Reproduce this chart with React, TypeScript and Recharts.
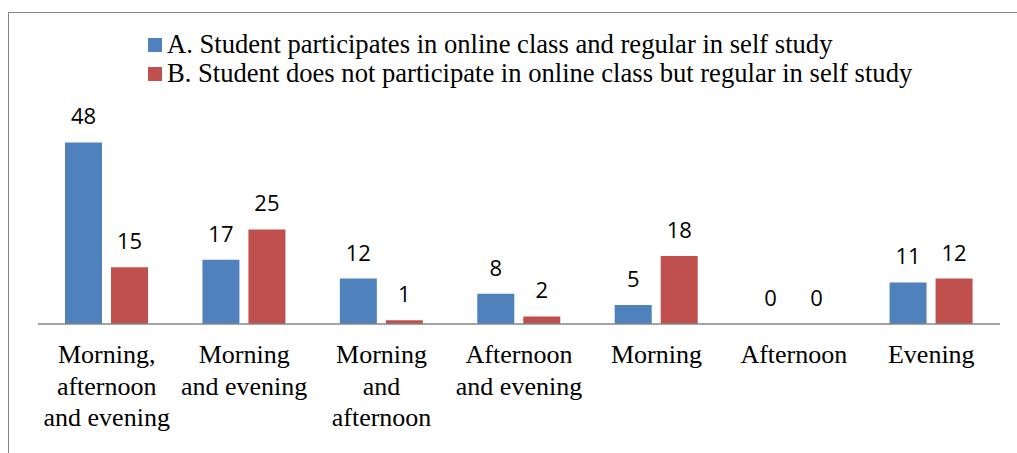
import React from "react"
import { BarChart, Bar, XAxis, YAxis, LabelList, Legend } from "recharts"

const categories = [
  "Morning,\nafternoon\nand evening",
  "Morning\nand evening",
  "Morning\nand\nafternoon",
  "Afternoon\nand evening",
  "Morning",
  "Afternoon",
  "Evening",
]
const seriesA = [48, 17, 12, 8, 5, 0, 11]
const seriesB = [15, 25, 1, 2, 18, 0, 12]
const seriesNames = [
  "A. Student participates in online class and regular in self study",
  "B. Student does not participate in online class but regular in self study",
]

const data = categories.map((name, i) => ({ name, a: seriesA[i], b: seriesB[i] }))

const SERIF = '"Liberation Serif", "Times New Roman", serif'
const SANS = '"Open Sans", "Noto Sans", sans-serif'

function CategoryTick(props: any) {
  const { x, y, payload } = props
  const lines = String(payload.value).split("\n")
  return (
    <text x={x} y={y + 39} textAnchor="middle" fontFamily={SERIF} fontSize={26} fill="#000">
      {lines.map((line: string, i: number) => (
        <tspan key={i} x={x} dy={i === 0 ? 0 : 31.5}>
          {line}
        </tspan>
      ))}
    </text>
  )
}

function LegendBox(props: any) {
  const { payload } = props
  return (
    <div style={{ fontFamily: SERIF, fontSize: 26.6, color: "#000", whiteSpace: "nowrap" }}>
      {(payload || []).map((entry: any) => (
        <div key={entry.value} style={{ display: "flex", alignItems: "center", height: 29 }}>
          <span
            style={{
              display: "inline-block",
              width: 14,
              height: 14,
              background: entry.color,
              marginRight: 5,
            }}
          />
          <span>{entry.value}</span>
        </div>
      ))}
    </div>
  )
}

export default function App() {
  return (
    <div
      style={{
        position: "fixed",
        left: 0,
        top: 0,
        width: 1017,
        height: 453,
        overflow: "hidden",
        background: "#fff",
      }}
    >
      <div
        style={{
          position: "absolute",
          left: 8,
          top: 12,
          width: 1100,
          height: 500,
          borderTop: "1px solid #868686",
          borderLeft: "1px solid #868686",
        }}
      />
      <div style={{ position: "absolute", left: 0, top: 0 }}>
        <BarChart
          width={1017}
          height={453}
          data={data}
          margin={{ top: 97, right: 17, bottom: 29, left: 38 }}
          barSize={37}
          barGap={9}
        >
          <XAxis
            dataKey="name"
            height={100}
            interval={0}
            tickLine={false}
            tickSize={0}
            tickMargin={0}
            axisLine={{ stroke: "#868686", strokeWidth: 1.5 }}
            tick={<CategoryTick />}
          />
          <YAxis hide domain={[0, 60]} />
          <Legend
            layout="horizontal"
            verticalAlign="middle"
            align="center"
            content={<LegendBox />}
            wrapperStyle={{ left: 148, top: 30 }}
          />
          <Bar
            dataKey="a"
            name={seriesNames[0]}
            fill="#4F81BD"
            minPointSize={0.01}
            isAnimationActive={false}
          >
            <LabelList
              dataKey="a"
              position="top"
              offset={18}
              fontFamily={SANS}
              fontSize={22}
              fill="#000"
            />
          </Bar>
          <Bar
            dataKey="b"
            name={seriesNames[1]}
            fill="#C0504D"
            minPointSize={0.01}
            isAnimationActive={false}
          >
            <LabelList
              dataKey="b"
              position="top"
              offset={18}
              fontFamily={SANS}
              fontSize={22}
              fill="#000"
            />
          </Bar>
        </BarChart>
      </div>
    </div>
  )
}
